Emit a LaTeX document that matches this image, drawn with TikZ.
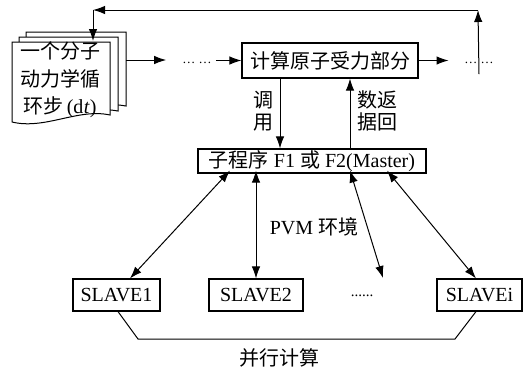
\documentclass[tikz,border=0pt]{standalone}
\usepackage{fontspec}
\setmainfont{Liberation Serif}
\newfontfamily\cjk{Noto Sans CJK SC}
\usetikzlibrary{arrows.meta}
\tikzset{
  box/.style={draw, line width=1.1pt, fill=white, inner sep=0pt, font=\fontsize{20}{24}\selectfont},
  conn/.style={line width=1pt},
  tip/.tip={Latex[length=12pt,width=8.5pt]},
  arr/.style={conn, -tip},
  darr/.style={conn, tip-tip},
  page/.style={draw, line width=1pt, fill=white},
  lbl/.style={font=\fontsize{20}{24}\selectfont, inner sep=0pt},
  dots/.style={font=\fontsize{13}{15}\selectfont, inner sep=0pt}
}
\begin{document}
\begin{tikzpicture}[x=1pt,y=-1pt]
\useasboundingbox (0,0) rectangle (523,373);
% document stack
\path[page] (26,32) -- (126,32) -- (126,106) .. controls (95,100) and (60,118) .. (26,112) -- cycle;
\path[page] (19,37) -- (118,37) -- (118,111) .. controls (87,105) and (52,123) .. (19,117) -- cycle;
\path[page] (12,42) -- (110,42) -- (110,115) .. controls (78,108) and (45,130) .. (12,122) -- cycle;
\node[lbl, align=center, font=\fontsize{20}{27.5}\selectfont] (doc) at (60,80)
  {{\cjk 一个分子}\\{\cjk 动力学循}\\{\cjk 环步}\,(d\kern0.5pt\textit{t})};
\coordinate (docR) at (126,60);
\coordinate (docT) at (93,41);
% top row
\node[box, minimum width=176pt, minimum height=35pt] (top) at (330,60.5) {\cjk 计算原子受力部分};
\node[dots] (dots1) at (197,63) {\ldots\ \ldots};
\node[dots] (dots2) at (479,63) {\ldots\ \ldots};
\coordinate (cR) at (478,10);
\coordinate (cL) at (93,10);
\draw[arr] (docR) -- ([xshift=-16pt]dots1.west |- docR);
\draw[arr] ([xshift=4pt]dots1.east |- top.west) -- (top.west);
\draw[arr] (top.east) -- ++(30,0);
\draw[arr] ([yshift=-12pt]dots2.north) -- (cR);
\draw[arr] (cR) -- (cL);
\draw[arr] (cL) -- (docT);
% master
\node[box, minimum width=228pt, minimum height=24pt] (master) at (312,161)
  {{\cjk 子程序} F1 {\cjk 或} F2(Master)};
\draw[arr] ([xshift=-50pt]top.south) -- ([xshift=-50pt]top.south |- master.north);
\draw[arr] ([xshift=20pt]top.south |- master.north) -- ([xshift=20pt]top.south);
\node[lbl, align=center, font=\fontsize{20}{22}\selectfont] (ty) at (263,111) {{\cjk 调}\\{\cjk 用}};
\node[lbl, align=center, font=\fontsize{20}{22}\selectfont] (sf) at (377,111) {{\cjk 数返}\\{\cjk 据回}};
% slaves
\node[box, minimum width=87pt, minimum height=32pt] (s1) at (116.5,295) {SLAVE1};
\node[box, minimum width=94pt, minimum height=32pt] (s2) at (256,295) {SLAVE2};
\node[box, minimum width=85pt, minimum height=32pt] (si) at (479.5,295) {SLAVEi};
\node[dots, font=\fontsize{15}{17}\selectfont] (dots3) at (362,296) {......};
\coordinate (d3) at (383,278);
\draw[darr] ([xshift=-82pt,yshift=3pt]master.south) -- ([xshift=13.5pt]s1.north);
\draw[darr] ([xshift=-56pt,yshift=3pt]master.south) -- (s2.north);
\draw[darr] ([xshift=38pt,yshift=3pt]master.south) -- (d3);
\draw[darr] ([xshift=75pt,yshift=3pt]master.south) -- ([xshift=-3.5pt]si.north);
\node[lbl] (pvm) at (314,227) {PVM {\cjk 环境}};
% bottom connector
\coordinate (b1) at (138,339);
\coordinate (b2) at (455,339);
\draw[conn] ([xshift=1.5pt]s1.south) -- (b1) -- (b2) -- ([xshift=-3.5pt]si.south);
\node[lbl] (par) at (279,358) {\cjk 并行计算};
\end{tikzpicture}
\end{document}
